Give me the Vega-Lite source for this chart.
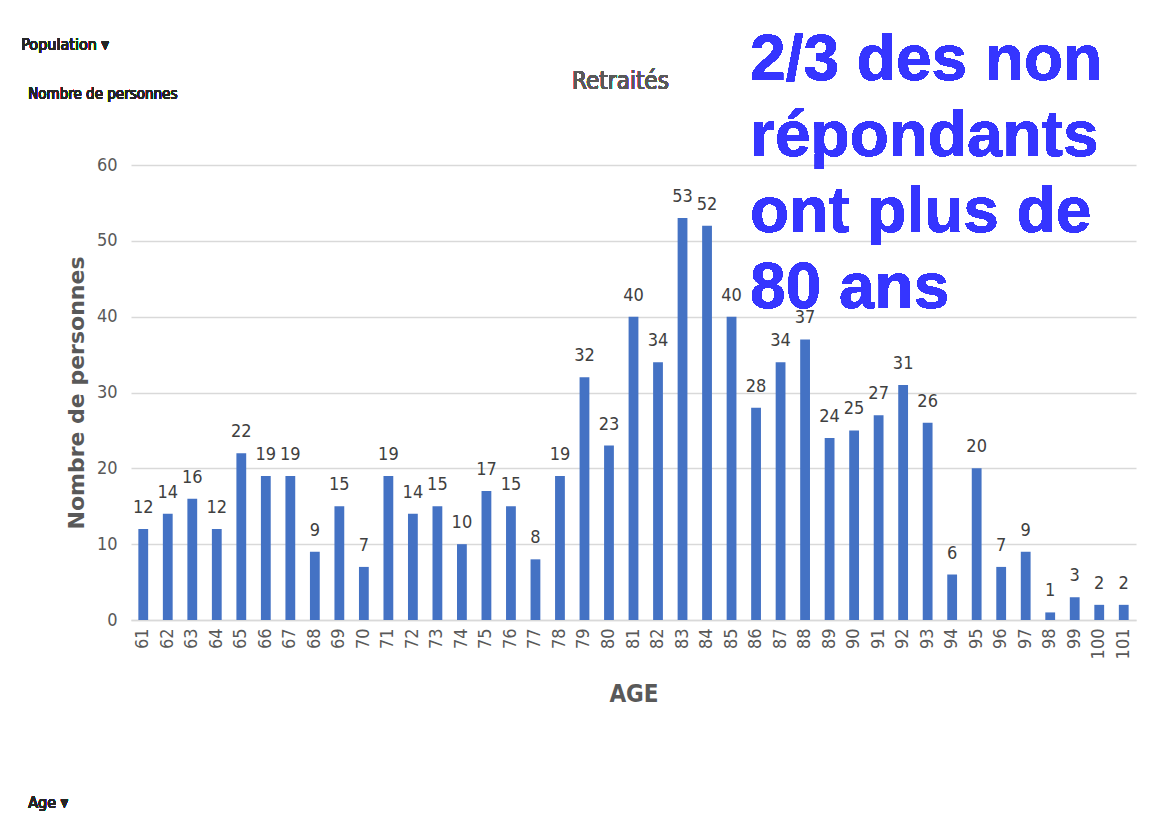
{
  "$schema": "https://vega.github.io/schema/vega-lite/v6.json",
  "width": 1005,
  "height": 455,
  "autosize": {"type": "none"},
  "padding": {"left": 131, "top": 165, "right": 35, "bottom": 209},
  "background": "white",
  "config": {"view": {"stroke": null}},
  "data": {
    "values": [
      {"age": 61, "n": 12}, {"age": 62, "n": 14}, {"age": 63, "n": 16}, {"age": 64, "n": 12},
      {"age": 65, "n": 22}, {"age": 66, "n": 19}, {"age": 67, "n": 19}, {"age": 68, "n": 9},
      {"age": 69, "n": 15}, {"age": 70, "n": 7}, {"age": 71, "n": 19}, {"age": 72, "n": 14},
      {"age": 73, "n": 15}, {"age": 74, "n": 10}, {"age": 75, "n": 17}, {"age": 76, "n": 15},
      {"age": 77, "n": 8}, {"age": 78, "n": 19}, {"age": 79, "n": 32}, {"age": 80, "n": 23},
      {"age": 81, "n": 40}, {"age": 82, "n": 34}, {"age": 83, "n": 53}, {"age": 84, "n": 52},
      {"age": 85, "n": 40}, {"age": 86, "n": 28}, {"age": 87, "n": 34}, {"age": 88, "n": 37},
      {"age": 89, "n": 24}, {"age": 90, "n": 25}, {"age": 91, "n": 27}, {"age": 92, "n": 31},
      {"age": 93, "n": 26}, {"age": 94, "n": 6}, {"age": 95, "n": 20}, {"age": 96, "n": 7},
      {"age": 97, "n": 9}, {"age": 98, "n": 1}, {"age": 99, "n": 3}, {"age": 100, "n": 2},
      {"age": 101, "n": 2}
    ]
  },
  "encoding": {
    "x": {
      "field": "age",
      "type": "ordinal",
      "scale": {"paddingInner": 0.6, "paddingOuter": 0.3},
      "axis": {
        "title": "AGE",
        "titleFont": "DejaVu Sans Condensed, Roboto",
        "titleFontSize": 24,
        "titleFontWeight": "bold",
        "titleColor": "#595959",
        "titlePadding": 24,
        "labelAngle": 270,
        "labelFont": "DejaVu Sans Condensed, Roboto",
        "labelFontSize": 18,
        "labelColor": "#595959",
        "labelPadding": 8,
        "ticks": false,
        "domain": true,
        "domainColor": "#D9D9D9",
        "domainWidth": 1.5,
        "grid": false
      }
    },
    "y": {
      "field": "n",
      "type": "quantitative",
      "scale": {"domain": [0, 60], "nice": false},
      "axis": {
        "title": "Nombre de personnes",
        "titleFont": "DejaVu Sans",
        "titleFontSize": 22,
        "titleFontWeight": "bold",
        "titleColor": "#595959",
        "titlePadding": 8,
        "values": [0, 10, 20, 30, 40, 50, 60],
        "labelFont": "DejaVu Sans Condensed, Roboto",
        "labelFontSize": 18,
        "labelColor": "#595959",
        "labelPadding": 14,
        "ticks": false,
        "domain": false,
        "grid": true,
        "gridColor": "#D9D9D9",
        "gridWidth": 1.5
      }
    }
  },
  "layer": [
    {"mark": {"type": "bar", "color": "#4472C4"}},
    {
      "mark": {
        "type": "text",
        "baseline": "alphabetic",
        "dy": -16,
        "font": "DejaVu Sans Condensed, Roboto",
        "fontSize": 18,
        "color": "#404040"
      },
      "encoding": {"text": {"field": "n", "type": "quantitative"}}
    },
    {
      "mark": {
        "type": "text",
        "align": "center",
        "baseline": "alphabetic",
        "dx": -13,
        "font": "DejaVu Sans Condensed, Roboto",
        "fontSize": 24,
        "color": "#595959",
        "text": "Retraités"
      },
      "encoding": {"x": {"datum": 81}, "y": {"datum": 70}}
    },
    {
      "mark": {
        "type": "text",
        "align": "left",
        "baseline": "alphabetic",
        "dx": -122,
        "font": "DejaVu Sans Condensed, Roboto",
        "fontSize": 16,
        "color": "#262626",
        "text": "Population  ▾"
      },
      "encoding": {"x": {"datum": 61}, "y": {"datum": 75.2}}
    },
    {
      "mark": {
        "type": "text",
        "align": "left",
        "baseline": "alphabetic",
        "dx": -115,
        "font": "DejaVu Sans Condensed, Roboto",
        "fontSize": 15,
        "color": "#262626",
        "text": "Nombre de personnes"
      },
      "encoding": {"x": {"datum": 61}, "y": {"datum": 68.7}}
    },
    {
      "mark": {
        "type": "text",
        "align": "left",
        "baseline": "alphabetic",
        "dx": -115,
        "font": "DejaVu Sans Condensed, Roboto",
        "fontSize": 16,
        "color": "#262626",
        "text": "Age ▾"
      },
      "encoding": {"x": {"datum": 61}, "y": {"datum": -24.8}}
    },
    {
      "mark": {
        "type": "text",
        "align": "left",
        "baseline": "alphabetic",
        "dx": -6,
        "font": "Liberation Sans",
        "fontWeight": "bold",
        "fontSize": 64,
        "lineHeight": 76,
        "color": "#3535FF",
        "text": ["2/3 des non", "répondants", "ont plus de", "80 ans"]
      },
      "encoding": {"x": {"datum": 86}, "y": {"datum": 71.2}}
    }
  ]
}
